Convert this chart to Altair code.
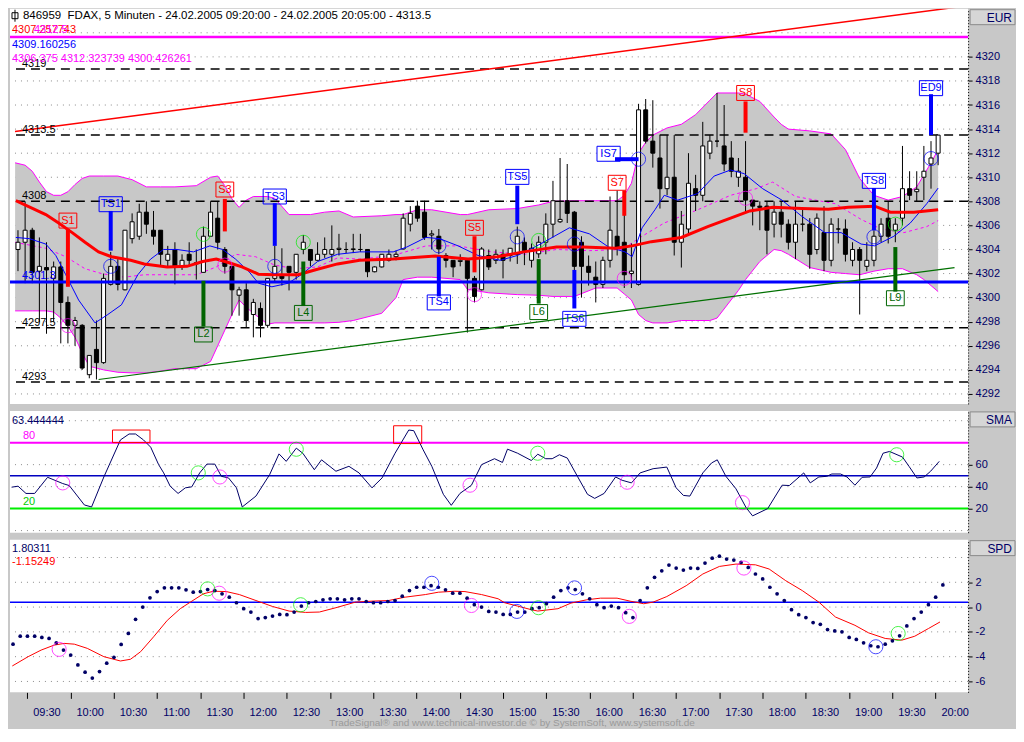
import altair as alt
import pandas as pd

FONT = "Liberation Sans, Arial, Helvetica, sans-serif"
NAVY = "#000066"
BG = "#c8c8c8"
BAND = "#c8c8c8"
RED, BLUE, DGREEN, LGREEN, MAG = "#ff0000", "#0000ff", "#006400", "#00ee00", "#ff00ff"

# ---------------- candles (5 min bars, 09:20 .. 20:05) ----------------
OPEN = [4304.0, 4304.6, 4305.6, 4302.2, 4302.5, 4301.6, 4302.55, 4299.6, 4297.7, 4297.7,
        4293.6, 4295.7, 4294.6, 4301.1, 4302.6, 4300.65, 4304.9, 4305.1, 4307.1, 4305.6,
        4305.6, 4303.1, 4304.0, 4302.6, 4303.6, 4302.9, 4302.1, 4305.1, 4306.6, 4304.0,
        4302.6, 4300.2, 4300.65, 4298.6, 4299.1, 4297.7, 4301.6, 4301.8, 4302.6, 4302.1,
        4304.0, 4304.0, 4303.1, 4303.6, 4303.6, 4304.0, 4304.0, 4304.0, 4304.0, 4304.0,
        4302.15, 4302.55, 4303.1, 4303.4, 4304.04, 4306.1, 4307.6, 4307.1, 4305.2, 4305.1,
        4303.5, 4303.1, 4303.0, 4303.1, 4301.6, 4300.65, 4303.5, 4303.1, 4303.6, 4303.5,
        4303.6, 4304.6, 4303.1, 4303.64, 4304.6, 4306.1, 4306.3, 4308.05, 4307.1, 4304.6,
        4302.6, 4301.7, 4301.1, 4303.1, 4305.1, 4304.6, 4302.0, 4301.1, 4315.6, 4313.0,
        4311.6, 4309.05, 4310.0, 4304.6, 4305.7, 4309.05, 4308.5, 4312.0, 4313.0, 4312.6,
        4311.6, 4310.0, 4310.0, 4308.1, 4307.6, 4307.6, 4306.1, 4307.1, 4306.1, 4304.6,
        4306.1, 4306.1, 4304.0, 4305.4, 4303.1, 4305.7, 4305.7, 4303.1, 4304.0, 4302.6,
        4303.1, 4305.1, 4306.6, 4305.6, 4306.6, 4309.05, 4308.8, 4310.0, 4311.1, 4312.0]
HIGH = [4305.6, 4308.0, 4305.8, 4305.0, 4304.6, 4303.0, 4303.0, 4300.1, 4298.4, 4297.8,
        4295.2, 4298.1, 4302.0, 4303.8, 4303.2, 4305.6, 4307.0, 4307.8, 4308.0, 4307.2,
        4305.6, 4304.3, 4304.6, 4303.6, 4304.6, 4304.0, 4305.9, 4308.0, 4308.0, 4304.2,
        4302.6, 4300.9, 4301.2, 4299.9, 4299.6, 4301.6, 4304.3, 4304.1, 4302.6, 4303.6,
        4305.2, 4304.0, 4304.6, 4305.0, 4306.0, 4305.3, 4304.6, 4305.3, 4305.3, 4304.0,
        4302.6, 4303.6, 4304.0, 4303.9, 4307.0, 4307.6, 4308.05, 4308.05, 4305.6, 4305.7,
        4303.7, 4303.1, 4303.6, 4303.2, 4301.8, 4304.2, 4304.0, 4304.0, 4304.0, 4304.1,
        4305.9, 4305.0, 4304.5, 4305.1, 4307.0, 4309.7, 4311.6, 4311.1, 4307.2, 4305.1,
        4303.5, 4303.0, 4303.4, 4308.4, 4308.9, 4307.8, 4304.5, 4316.1, 4316.5, 4316.4,
        4313.5, 4313.5, 4313.5, 4307.2, 4312.0, 4310.2, 4314.6, 4313.5, 4317.0, 4316.0,
        4313.0, 4311.6, 4313.0, 4308.1, 4308.0, 4308.0, 4308.0, 4308.0, 4306.5, 4308.0,
        4307.3, 4306.6, 4307.0, 4307.6, 4306.6, 4306.6, 4306.5, 4304.6, 4304.2, 4304.6,
        4305.6, 4306.6, 4308.0, 4306.6, 4312.6, 4310.5, 4310.5, 4312.6, 4313.0, 4313.5]
LOW = [4302.2, 4301.2, 4301.2, 4298.0, 4297.0, 4298.0, 4296.2, 4296.2, 4296.0, 4294.0,
       4293.3, 4293.2, 4294.5, 4301.0, 4300.6, 4300.6, 4304.5, 4304.8, 4305.3, 4304.4,
       4302.6, 4302.6, 4301.1, 4302.3, 4302.6, 4301.5, 4302.1, 4305.1, 4304.0, 4302.0,
       4298.5, 4298.5, 4297.5, 4296.7, 4296.7, 4297.5, 4301.3, 4301.0, 4300.6, 4301.5,
       4303.6, 4302.6, 4303.1, 4303.3, 4303.0, 4303.5, 4303.7, 4303.7, 4303.8, 4301.7,
       4302.1, 4302.5, 4303.0, 4303.1, 4304.0, 4305.5, 4306.3, 4304.8, 4304.0, 4303.6,
       4302.5, 4301.7, 4302.6, 4297.1, 4299.6, 4300.6, 4302.3, 4302.8, 4301.6, 4303.0,
       4302.8, 4302.7, 4302.5, 4303.3, 4303.6, 4305.0, 4306.2, 4306.2, 4299.7, 4300.0,
       4301.0, 4299.6, 4300.8, 4302.5, 4303.5, 4300.8, 4300.8, 4301.0, 4312.8, 4310.8,
       4307.4, 4308.5, 4303.5, 4302.5, 4305.2, 4307.2, 4308.0, 4311.5, 4312.5, 4310.5,
       4310.0, 4309.2, 4307.0, 4306.0, 4305.6, 4303.6, 4305.0, 4305.0, 4304.0, 4303.2,
       4305.5, 4302.4, 4303.6, 4302.2, 4302.6, 4304.5, 4303.0, 4302.6, 4298.6, 4302.2,
       4302.6, 4304.6, 4304.5, 4304.6, 4306.0, 4308.1, 4308.0, 4308.1, 4309.05, 4311.0]
CLOSE = [4304.6, 4305.6, 4302.1, 4302.6, 4302.3, 4302.55, 4299.6, 4297.7, 4298.1, 4294.15,
         4295.2, 4294.6, 4301.6, 4302.6, 4301.1, 4305.6, 4306.3, 4307.1, 4306.1, 4305.1,
         4303.6, 4303.6, 4302.6, 4303.1, 4303.1, 4302.8, 4305.1, 4307.1, 4304.6, 4302.6,
         4300.65, 4300.65, 4298.1, 4299.6, 4297.7, 4301.6, 4302.6, 4301.6, 4302.1, 4303.6,
         4304.6, 4303.1, 4303.6, 4304.0, 4304.0, 4304.1, 4304.0, 4304.05, 4304.0, 4302.15,
         4302.55, 4303.6, 4303.6, 4303.6, 4306.6, 4307.0, 4306.6, 4305.0, 4305.3, 4304.04,
         4303.1, 4302.55, 4303.1, 4301.6, 4300.1, 4304.04, 4302.55, 4303.6, 4303.1, 4304.1,
         4305.1, 4303.9, 4304.1, 4304.6, 4306.1, 4308.05, 4306.5, 4307.0, 4302.6, 4302.6,
         4302.1, 4301.1, 4303.1, 4305.6, 4304.2, 4301.9, 4302.2, 4315.6, 4313.0, 4312.0,
         4309.05, 4310.0, 4304.6, 4306.1, 4309.5, 4308.5, 4312.6, 4313.0, 4313.0, 4311.1,
         4310.5, 4310.5, 4308.1, 4307.6, 4307.5, 4305.6, 4307.1, 4306.1, 4304.6, 4306.1,
         4306.1, 4303.6, 4306.6, 4303.1, 4306.1, 4305.7, 4303.6, 4304.0, 4303.1, 4303.1,
         4305.1, 4306.1, 4305.1, 4306.1, 4309.05, 4308.5, 4309.0, 4310.5, 4311.6, 4313.5]

# ---------------- Bollinger band ----------------
BAND_X = [-0.4, 1, 2, 3, 4, 5, 6, 7, 8, 9, 10, 12, 14, 16, 18, 20, 22, 25, 27, 28, 29, 30, 31, 32, 33,
          35, 36, 38, 41, 43, 45, 47, 51, 53, 54, 56, 58, 62, 63, 66, 70, 73, 75, 78, 81, 84, 85,
          86, 87, 88, 89, 91, 93, 95, 97, 98, 101, 102, 104, 106, 107, 108, 111, 114, 116, 118,
          120, 122, 124, 126, 127, 128, 129]
BAND_UP = [4311.2, 4311.0, 4310.5, 4309.6, 4308.8, 4308.5, 4308.5, 4308.8, 4309.4, 4309.9, 4310.1,
           4310.1, 4310.1, 4309.8, 4309.2, 4309.2, 4309.2, 4309.3, 4310.0, 4310.1, 4309.3, 4308.2,
           4307.5, 4308.1, 4308.4, 4308.4, 4308.25, 4306.9, 4306.9, 4307.1, 4307.2, 4306.7, 4306.8,
           4306.9, 4306.9, 4307.3, 4307.3, 4306.9, 4306.9, 4307.3, 4307.4, 4307.7, 4308.0, 4308.05,
           4308.05, 4308.05, 4308.5, 4309.5, 4312.0, 4312.9, 4313.5, 4314.1, 4314.4, 4315.2, 4316.4,
           4317.0, 4317.0, 4316.9, 4316.3, 4315.0, 4314.4, 4314.0, 4313.85, 4313.6, 4312.3, 4309.9,
           4308.5, 4308.1, 4308.4, 4309.2, 4310.2, 4311.2, 4312.3]
BAND_LO = [4298.9, 4298.9, 4298.9, 4298.9, 4298.9, 4298.8, 4298.3, 4297.6, 4296.7, 4295.4, 4294.3,
           4294.0, 4293.8, 4293.75, 4293.75, 4293.9, 4294.1, 4294.1, 4294.7, 4296.0, 4297.3, 4298.6,
           4299.8, 4299.2, 4298.7, 4297.8, 4297.9, 4297.9, 4297.9, 4297.9, 4297.95, 4298.1, 4298.7,
           4300.0, 4301.5, 4301.7, 4301.7, 4301.5, 4300.7, 4300.4, 4300.25, 4300.2, 4300.1, 4300.1,
           4300.8, 4300.8, 4300.3, 4299.8, 4298.6, 4298.1, 4297.9, 4297.9, 4298.1, 4298.1, 4298.1,
           4298.3, 4300.6, 4301.5, 4303.0, 4304.0, 4303.9, 4303.6, 4302.5, 4302.1, 4302.0, 4301.9,
           4302.2, 4302.4, 4302.4, 4301.9, 4301.5, 4301.0, 4300.5]
MID_X = [-0.4, 3.9, 6.7, 9.4, 11.7, 14.9, 17.7, 22.3, 25, 27.8, 30.5, 33.3, 36, 38.8, 42, 44.8, 47.9,
         52.6, 57.2, 61.7, 66.4, 71, 75.5, 80.1, 84.7, 87.5, 90.6, 95.3, 99.9, 103.5, 105.8, 109,
         111.8, 114.6, 118.2, 121, 124.2, 127.4, 129]
MID_Y = [4304.6, 4304.1, 4303.4, 4302.4, 4302.0, 4301.7, 4301.9, 4301.9, 4301.9, 4302.55, 4303.6,
         4303.4, 4302.7, 4302.4, 4302.55, 4303.3, 4303.2, 4303.5, 4304.3, 4304.3, 4303.8, 4303.6,
         4304.0, 4303.9, 4304.0, 4305.1, 4306.2, 4307.3, 4308.5, 4309.05, 4309.6, 4308.4, 4308.1,
         4307.8, 4306.5, 4305.7, 4305.4, 4305.9, 4306.4]

# ---------------- moving averages ----------------
RED_X = [-0.3, 2.1, 3.9, 5.7, 7.6, 9.4, 11.3, 13.1, 15.8, 17.7, 20.9, 23.7, 25.9, 27.8, 29.6, 31.4,
         33.7, 36, 39.3, 41.6, 44.8, 47.9, 52.6, 58.5, 63.1, 67.2, 70.9, 75.5, 79.2, 83.8, 86.1,
         88.8, 93, 96.7, 99.9, 102.6, 105.8, 109.9, 113.6, 116.4, 120.1, 122.3, 125.6, 129]
RED_Y = [4308.05, 4307.4, 4306.9, 4306.2, 4305.4, 4304.6, 4303.8, 4303.4, 4303.1, 4302.8, 4302.55,
         4302.6, 4303.0, 4303.2, 4302.9, 4302.55, 4301.95, 4301.9, 4301.9, 4302.3, 4302.8, 4303.1,
         4303.2, 4303.45, 4303.2, 4303.4, 4303.8, 4304.2, 4304.2, 4304.1, 4304.3, 4304.65, 4305.0,
         4305.9, 4306.6, 4307.2, 4307.5, 4307.4, 4307.35, 4307.5, 4307.6, 4307.1, 4307.1, 4307.3]
BLU_X = [-0.3, 1.6, 3.9, 5.3, 6.7, 8.5, 10.8, 12.6, 14.5, 16.8, 18.6, 20.4, 22.3, 24.6, 26.9, 28.7,
         30.5, 32.4, 33.7, 35.6, 37.9, 39.7, 42, 44.8, 47.9, 52.6, 54.5, 57.2, 59.1, 61.7, 64.5,
         67.6, 70, 71.8, 74.6, 77.3, 80.1, 82.8, 85.1, 86.1, 87.5, 89.3, 90.6, 92.5, 95.3, 97.6,
         99.9, 101.8, 104.4, 107.1, 109.9, 113.1, 115.4, 118.2, 120.1, 122.8, 125.1, 127.4, 129]
BLU_Y = [4305.0, 4304.9, 4304.45, 4303.5, 4301.9, 4299.8, 4297.9, 4298.6, 4299.4, 4301.9, 4303.2,
         4304.0, 4304.0, 4303.8, 4304.3, 4304.0, 4303.2, 4302.15, 4301.2, 4300.9, 4301.2, 4301.9,
         4303.0, 4303.6, 4303.8, 4303.8, 4304.2, 4305.0, 4304.9, 4304.3, 4303.5, 4303.1, 4303.5,
         4304.0, 4304.9, 4305.8, 4305.3, 4304.2, 4303.8, 4303.4, 4305.8, 4307.3, 4308.5, 4308.1,
         4308.65, 4310.1, 4310.6, 4310.3, 4309.05, 4308.1, 4306.75, 4305.4, 4305.4, 4304.45,
         4304.3, 4305.1, 4306.2, 4307.8, 4309.1]

# ---------------- levels and trend lines ----------------
LEVELS = [4319, 4313.5, 4308, 4297.5, 4293]
LEVEL_LABELS = ["4319", "4313.5", "4308", "4297.5", "4293"]
BLUE_LEVEL = 4301.3
MAG_LEVEL = 4321.65
RES_X, RES_Y = [-0.42, 132.5], [4313.8, 4324.2]
SUP_X, SUP_Y = [11.3, 131.3], [4293.2, 4302.5]
PRICE_TICKS = [4292, 4294, 4296, 4298, 4300, 4302, 4304, 4306, 4308, 4310, 4312, 4314, 4316, 4318, 4320]
PRICE_GRID = PRICE_TICKS + [4322]

# ---------------- signals ----------------
SIG_NAMES = ["S1", "TS1", "S3", "TS3", "L2", "L4", "TS4", "S5", "TS5", "L6", "TS6", "S7", "S8", "TS8", "L9", "ED9"]
SIG_BAR = [7, 13, 29, 36, 26, 40, 59, 64, 70, 73, 78, 85, 102, 120, 123, 128]
SIG_TOP = [4305.7, 4307.2, 4308.2, 4307.85, 4301.4, 4303.0, 4303.4, 4305.1, 4309.3, 4303.2, 4302.3,
           4308.9, 4316.3, 4309.1, 4304.2, 4316.9]
SIG_BOT = [4300.9, 4303.9, 4305.5, 4304.3, 4297.6, 4299.3, 4300.1, 4302.1, 4306.1, 4299.5, 4299.1,
           4306.8, 4313.7, 4305.6, 4300.5, 4313.5]
SIG_BOX_X = [7, 13, 29, 36, 26, 40, 59, 64, 70, 73, 78, 84, 102, 120, 123, 128]
SIG_BOX_Y = [4306.4, 4307.76, 4308.98, 4308.4, 4296.94, 4298.73, 4299.6, 4305.8, 4310.03, 4298.8,
             4298.24, 4309.54, 4317.0, 4309.7, 4299.95, 4317.4]
SIG_KIND = [RED, BLUE, RED, BLUE, DGREEN, DGREEN, BLUE, RED, BLUE, DGREEN, BLUE, RED, RED, BLUE, DGREEN, BLUE]
IS7_NAME, IS7_BOX_X, IS7_BOX_Y = "IS7", 82.8, 4311.95
IS7_X1, IS7_X2, IS7_Y = 83.7, 87.0, 4311.5

CIRC_BAR = [13, 36, 59, 70, 78, 87, 120, 128, 26, 40, 73, 123, 7, 29, 64, 85, 102]
CIRC_PRICE = [4302.6, 4302.6, 4304.3, 4305.05, 4304.45, 4311.5, 4305.05, 4311.55, 4305.26, 4304.6,
              4304.75, 4306.1, 4297.67, 4302.7, 4300.25, 4301.6, 4308.25]
CIRC_KIND = [BLUE] * 8 + [LGREEN] * 4 + [MAG] * 5

# ---------------- SMA panel ----------------
STO_X = [-0.2, 0.7, 1.8, 3.0, 4.8, 6.9, 7.8, 9.9, 10.9, 12.6, 14.9, 16.1, 17.0, 18.1, 19.1, 20.2,
         20.9, 21.8, 22.9, 23.9, 24.8, 25.9, 26.9, 28.0, 28.9, 29.9, 31.0, 31.8, 33.7, 35.6, 36.9,
         37.9, 39.3, 40.2, 41.8, 42.8, 44.8, 46.6, 48.0, 49.8, 51.2, 53.0, 54.9, 55.6, 56.9, 58.1,
         59.7, 60.8, 62.0, 63.6, 65.0, 66.8, 67.9, 68.6, 70.0, 71.9, 72.8, 73.9, 74.8, 75.8, 76.9,
         78.3, 79.7, 80.7, 82.0, 83.6, 84.5, 85.8, 87.0, 88.8, 90.7, 92.0, 93.0, 93.9, 95.7, 96.9,
         97.7, 98.9, 100.3, 101.7, 102.6, 104.7, 106.7, 107.7, 109.7, 110.6, 111.8, 112.9, 113.6,
         114.8, 115.7, 116.8, 117.8, 118.9, 119.8, 120.7, 121.6, 123.4, 124.3, 125.4, 126.4, 127.3, 128.5]
STO_V = [39.5, 40.4, 33.8, 33.8, 48.5, 42.8, 41.0, 23.3, 21.5, 48.8, 82.5, 87.9, 87.9, 82.5, 75.9, 60.0,
         52.5, 40.4, 33.8, 38.9, 39.8, 52.5, 60.5, 60.5, 49.4, 47.9, 38.9, 21.5, 31.4, 50.9, 69.8,
         63.0, 75.0, 70.4, 55.4, 64.4, 54.0, 58.5, 52.5, 38.9, 47.9, 70.4, 91.5, 90.9, 73.5, 58.5,
         33.0, 23.0, 33.8, 41.3, 60.0, 65.4, 62.0, 74.1, 70.4, 63.8, 69.5, 65.4, 65.4, 69.0, 66.0,
         49.4, 33.0, 29.3, 33.8, 48.8, 45.8, 43.4, 52.5, 56.3, 57.8, 38.9, 32.0, 31.4, 52.5, 61.5,
         64.4, 49.4, 38.0, 20.9, 13.4, 20.0, 41.3, 41.0, 52.5, 43.4, 48.8, 49.4, 51.5,
         51.5, 48.8, 41.3, 48.5, 48.8, 56.9, 70.4, 72.0, 66.9, 58.5, 47.9, 48.8, 54.0, 63.0]
STO_BOX = [(13.8, 19.0, 80.1, 91.5), (52.8, 56.7, 79.2, 95.4)]
STO_C_X = [25.7, 39.3, 72.8, 122.6, 6.9, 28.7, 63.4, 85.2, 101.2]
STO_C_V = [52.5, 74.0, 70.4, 69.0, 43.4, 48.8, 41.3, 44.0, 25.4]
STO_C_KIND = [LGREEN] * 4 + [MAG] * 5
STO_TICKS = [20, 40, 60]
STO_GRID = [100, 60, 40, 0]

# ---------------- SPD panel ----------------
SPD = [-2.99, -2.35, -2.35, -2.35, -2.45, -2.53, -2.88, -3.47, -3.87, -4.67,
       -5.25, -5.73, -5.2, -4.53, -4.05, -3.01, -2.13, -0.99, 0.0, 0.75,
       1.25, 1.55, 1.55, 1.55, 1.39, 1.2, 1.25, 1.41, 1.33, 1.07,
       0.8, 0.35, -0.13, -0.4, -0.93, -0.85, -0.72, -0.59, -0.61, -0.4,
       0.08, 0.35, 0.45, 0.59, 0.67, 0.67, 0.59, 0.67, 0.67, 0.45,
       0.35, 0.35, 0.45, 0.53, 0.88, 1.33, 1.6, 1.6, 1.73, 1.6,
       1.39, 1.12, 1.12, 0.72, 0.19, 0.0, -0.35, -0.4, -0.59, -0.59,
       -0.4, -0.4, -0.13, -0.05, 0.27, 0.8, 1.33, 1.55, 1.41, 1.07, 0.67,
       0.19, -0.05, 0.08, -0.05, -0.45, -0.85, 0.53, 1.55, 2.4, 2.93,
       3.39, 3.15, 2.99, 3.15, 3.12, 3.55, 3.95, 4.11, 3.87, 3.79,
       3.6, 3.2, 2.67, 2.27, 1.6, 1.07, 0.53, -0.21, -0.61, -0.85,
       -1.25, -1.39, -1.81, -1.92, -2.0, -2.45, -2.61, -2.88, -3.12, -3.2,
       -2.99, -2.72, -2.32, -1.52, -0.93, -0.4, 0.19, 0.8, 1.79]
SIG_X = [-0.1, 2.1, 3.9, 5.7, 7.1, 8.5, 10.3, 12.6, 14.9, 16.3, 17.7, 19.5, 21.4, 23.2, 24.6, 26.4,
         27.8, 29.6, 31.4, 33.7, 36.0, 38.3, 40.6, 42.5, 44.8, 47.5, 49.8, 52.1, 54.4, 57.2, 59.0,
         61.3, 62.7, 65.0, 67.3, 68.2, 70.0, 71.9, 72.8, 75.6, 77.4, 79.6, 81.5, 83.8, 85.6, 87.5,
         88.8, 90.7, 93.4, 95.7, 98.0, 100.3, 103.0, 104.9, 107.2, 109.5, 111.8, 114.1, 116.8,
         118.7, 121.0, 123.3, 125.1, 127.0, 128.6]
SIG_V = [-4.75, -4.0, -3.47, -3.07, -2.93, -2.99, -3.33, -4.0, -4.35, -4.21, -3.6, -2.4, -1.07, -0.13,
         0.4, 1.07, 1.28, 1.25, 1.01, 0.53, 0.05, -0.32, -0.43, -0.4, -0.05, 0.4, 0.48, 0.53, 0.8,
         1.01, 1.2, 1.28, 1.25, 1.01, 0.67, 0.35, 0.08, -0.21, -0.32, -0.13, 0.32, 0.59, 0.72, 0.72,
         0.48, 0.27, 0.4, 0.85, 1.73, 2.67, 3.28, 3.47, 3.41, 3.07, 2.13, 1.33, 0.4, -0.8, -1.47,
         -2.08, -2.53, -2.67, -2.35, -1.73, -1.2]
SPD_C_X = [6.4, 28.6, 63.6, 85.5, 101.4, 27.0, 39.9, 72.9, 122.8, 58.1, 69.9, 77.9, 119.7]
SPD_C_V = [-3.41, 1.12, 0.13, -0.75, 3.15, 1.47, 0.19, -0.05, -2.13, 1.92, -0.35, 1.55, -3.2]
SPD_C_KIND = [MAG] * 5 + [LGREEN] * 4 + [BLUE] * 4
SPD_LEVEL = 0.4
SPD_TICKS = [2, 0, -2, -4, -6]
SPD_GRID = [4, 2, 0, -2, -4, -6]

TIME_TICKS = [2, 8, 14, 20, 26, 32, 38, 44, 50, 56, 62, 68, 74, 80, 86, 92, 98, 104, 110, 116, 122, 128]
TIME_LABELS = ["09:30", "10:00", "10:30", "11:00", "11:30", "12:00", "12:30", "13:00", "13:30", "14:00",
               "14:30", "15:00", "15:30", "16:00", "16:30", "17:00", "17:30", "18:00", "18:30", "19:00",
               "19:30", "20:00"]

TITLE = "846959 \u00a0FDAX, 5 Minuten - 24.02.2005 09:20:00 - 24.02.2005 20:05:00 - 4313.5"

# ---------------- layout ----------------
W = 960
H1, H2, H3 = 396, 122, 153
XDOM = [-0.42, 132.5]
PDOM = [4291.17, 4324.0]
SDOM = [-1.9, 108.9]
DDOM = [-6.88, 5.44]
PPU_X = W / (XDOM[1] - XDOM[0])
PPU_P = H1 / (PDOM[1] - PDOM[0])


def yaxis(values, label_expr=None):
    kw = dict(orient="right", values=values, title=None, grid=False, labelFont=FONT, labelFontSize=11,
              labelColor=NAVY, tickColor="black", tickSize=4, domainColor="black", domainDash=[1, 2],
              labelPadding=3, labelOverlap=False)
    if label_expr:
        kw["labelExpr"] = label_expr
    else:
        kw["format"] = "d"
    return alt.Axis(**kw)


label_expr = ("[" + ",".join(f"'{s}'" for s in TIME_LABELS) + "][indexof(["
              + ",".join(str(t) for t in TIME_TICKS) + "], datum.value)]")
XAXIS = alt.Axis(values=TIME_TICKS, labelExpr=label_expr, title=None, grid=False, domain=False,
                 tickColor="black", tickSize=6, labelOffset=19, labelColor=NAVY, labelFont=FONT,
                 labelFontSize=11, labelPadding=8, labelFlush=False, labelOverlap=False, orient="bottom")
PAX = yaxis(PRICE_TICKS)
SAX = yaxis(STO_TICKS)
DAX = yaxis(SPD_TICKS, "'' + datum.value")


def xe(field, axis=None):
    return alt.X(f"{field}:Q", scale=alt.Scale(domain=XDOM, nice=False, zero=False), axis=axis)


def xd(field):
    return xe(field, XAXIS)


def yp(field):
    return alt.Y(f"{field}:Q", scale=alt.Scale(domain=PDOM, nice=False, zero=False), axis=PAX)


def ys(field):
    return alt.Y(f"{field}:Q", scale=alt.Scale(domain=SDOM, nice=False, zero=False), axis=SAX)


def yd(field):
    return alt.Y(f"{field}:Q", scale=alt.Scale(domain=DDOM, nice=False, zero=False), axis=DAX)


def one():
    return pd.DataFrame({"k": [0]})


def ptext(s, x, y, color="black", size=11, align="left", baseline="middle"):
    return alt.Chart(pd.DataFrame({"t": [s]})).mark_text(
        align=align, baseline=baseline, font=FONT, fontSize=size, color=color
    ).encode(x=alt.value(x), y=alt.value(y), text="t:N")


def header(label):
    box = alt.Chart(one()).mark_rect(fill="#d6d6d6", stroke="#8a8a8a", strokeWidth=1).encode(
        x=alt.value(W + 2), x2=alt.value(W + 47), y=alt.value(1), y2=alt.value(16))
    txt = ptext(label, W + 44, 9, color=NAVY, size=12, align="right")
    return [box, txt]


# ===== price panel =====
cdf = pd.DataFrame({"i": list(range(len(OPEN))), "o": OPEN, "h": HIGH, "l": LOW, "c": CLOSE})
band_df = pd.DataFrame({"x": BAND_X, "up": BAND_UP, "lo": BAND_LO})
mid_df = pd.DataFrame({"x": MID_X, "y": MID_Y})
red_df = pd.DataFrame({"x": RED_X, "y": RED_Y})
blu_df = pd.DataFrame({"x": BLU_X, "y": BLU_Y})
lev_df = pd.DataFrame({"p": LEVELS, "t": LEVEL_LABELS})

grid1 = alt.Chart(pd.DataFrame({"p": PRICE_GRID})).mark_rule(
    color="#8c8c8c", strokeDash=[1, 5], strokeWidth=1).encode(y=yp("p"))
band = alt.Chart(band_df).mark_area(color=BAND, opacity=1).encode(x=xe("x"), y=yp("up"), y2="lo")
band_up = alt.Chart(band_df).mark_line(color=MAG, strokeWidth=1).encode(x=xe("x"), y=yp("up"))
band_lo = alt.Chart(band_df).mark_line(color=MAG, strokeWidth=1).encode(x=xe("x"), y=yp("lo"))
band_mid = alt.Chart(mid_df).mark_line(color=MAG, strokeWidth=1, strokeDash=[3, 3]).encode(
    x=xe("x"), y=yp("y"))
lev = alt.Chart(lev_df).mark_rule(color="black", strokeDash=[9, 6], strokeWidth=1.5).encode(y=yp("p"))
lev_txt = alt.Chart(lev_df).mark_text(
    align="left", baseline="alphabetic", dy=-2, font=FONT, fontSize=11, color="black").encode(
    x=alt.value(12), y=yp("p"), text="t:N")
mag_lev = alt.Chart(pd.DataFrame({"p": [MAG_LEVEL]})).mark_rule(color=MAG, strokeWidth=2.5).encode(y=yp("p"))
wick = alt.Chart(cdf).mark_rule(color="black", strokeWidth=1).encode(x=xe("i"), y=yp("l"), y2="h")
body = alt.Chart(cdf).mark_bar(size=4, stroke="black", strokeWidth=1).encode(
    x=xe("i"), y=yp("o"), y2="c",
    fill=alt.condition("datum.c >= datum.o", alt.value("white"), alt.value("black")))
blu_line = alt.Chart(blu_df).mark_line(color=BLUE, strokeWidth=1).encode(x=xe("x"), y=yp("y"))
red_line = alt.Chart(red_df).mark_line(color=RED, strokeWidth=3).encode(x=xe("x"), y=yp("y"))
blue_lev = alt.Chart(pd.DataFrame({"p": [BLUE_LEVEL]})).mark_rule(color=BLUE, strokeWidth=3).encode(y=yp("p"))
blue_lev_txt = alt.Chart(pd.DataFrame({"p": [BLUE_LEVEL], "t": ["4301.3"]})).mark_text(
    align="left", baseline="alphabetic", dy=-3, font=FONT, fontSize=11, color=BLUE).encode(
    x=alt.value(12), y=yp("p"), text="t:N")
res = alt.Chart(pd.DataFrame({"x": RES_X, "y": RES_Y})).mark_line(
    color=RED, strokeWidth=1.5, clip=True).encode(x=xe("x"), y=yp("y"))
sup = alt.Chart(pd.DataFrame({"x": SUP_X, "y": SUP_Y})).mark_line(
    color="#007000", strokeWidth=1.2, clip=True).encode(x=xe("x"), y=yp("y"))

sig_df = pd.DataFrame({"n": SIG_NAMES, "b": SIG_BAR, "t": SIG_TOP, "d": SIG_BOT, "c": SIG_KIND})
box_df = pd.DataFrame({"n": SIG_NAMES + [IS7_NAME], "bx": SIG_BOX_X + [IS7_BOX_X],
                       "by": SIG_BOX_Y + [IS7_BOX_Y], "c": SIG_KIND + [BLUE]})
half_w = (7 + 5.5 * box_df["n"].str.len()) / 2 / PPU_X
half_h = 7.5 / PPU_P
box_df["x1"] = box_df["bx"] - half_w
box_df["x2"] = box_df["bx"] + half_w
box_df["y1"] = box_df["by"] - half_h
box_df["y2"] = box_df["by"] + half_h

sig_bar = alt.Chart(sig_df).mark_rule(strokeWidth=4).encode(
    x=xe("b"), y=yp("t"), y2="d", color=alt.Color("c:N", scale=None))
is7_bar = alt.Chart(pd.DataFrame({"x1": [IS7_X1], "x2": [IS7_X2], "y": [IS7_Y]})).mark_rule(
    strokeWidth=4, color=BLUE).encode(x=xe("x1"), x2="x2", y=yp("y"))
sig_box = alt.Chart(box_df).mark_rect(fillOpacity=0, strokeWidth=1).encode(
    x=xe("x1"), x2="x2", y=yp("y1"), y2="y2", stroke=alt.Color("c:N", scale=None))
sig_txt = alt.Chart(box_df).mark_text(font=FONT, fontSize=11, baseline="middle", align="center").encode(
    x=xe("bx"), y=yp("by"), text="n:N", color=alt.Color("c:N", scale=None))
circ = alt.Chart(pd.DataFrame({"x": CIRC_BAR, "y": CIRC_PRICE, "c": CIRC_KIND})).mark_point(
    shape="circle", filled=False, size=200, strokeWidth=1).encode(
    x=xe("x"), y=yp("y"), color=alt.Color("c:N", scale=None))

icon_box = alt.Chart(one()).mark_rect(fill="white", stroke="black", strokeWidth=1).encode(
    x=alt.value(2), x2=alt.value(8), y=alt.value(4), y2=alt.value(10))
icon_line = alt.Chart(one()).mark_rule(color="black", strokeWidth=1).encode(
    x=alt.value(5), y=alt.value(1), y2=alt.value(13))

price = alt.layer(
    grid1, band, band_up, band_lo, band_mid, lev, mag_lev, wick, body, blu_line, red_line,
    blue_lev, res, sup, sig_bar, is7_bar, sig_box, sig_txt, circ, lev_txt, blue_lev_txt,
    icon_box, icon_line,
    ptext(TITLE, 13, 7, size=11.5),
    ptext("4307.257743", 2, 21, color=RED),
    ptext("4312.5", 24, 21, color=MAG),
    ptext("4309.160256", 2, 36, color=BLUE),
    ptext("4306.375 4312.323739 4300.426261", 2, 50, color=MAG),
    *header("EUR"),
).properties(width=W, height=H1)

# ===== SMA panel =====
grid2 = alt.Chart(pd.DataFrame({"v": STO_GRID})).mark_rule(
    color="#8c8c8c", strokeDash=[1, 5], strokeWidth=1).encode(y=ys("v"))
l80 = alt.Chart(pd.DataFrame({"v": [80]})).mark_rule(color=MAG, strokeWidth=2).encode(y=ys("v"))
l50 = alt.Chart(pd.DataFrame({"v": [50]})).mark_rule(color="#0000c0", strokeWidth=1.5).encode(y=ys("v"))
l20 = alt.Chart(pd.DataFrame({"v": [20]})).mark_rule(color="#00ee00", strokeWidth=2).encode(y=ys("v"))
sto = alt.Chart(pd.DataFrame({"x": STO_X, "v": STO_V})).mark_line(color=NAVY, strokeWidth=1).encode(
    x=xe("x"), y=ys("v"))
sbox = alt.Chart(pd.DataFrame({"x1": [b[0] for b in STO_BOX], "x2": [b[1] for b in STO_BOX],
                               "y1": [b[2] for b in STO_BOX], "y2": [b[3] for b in STO_BOX]})).mark_rect(
    fillOpacity=0, stroke=RED, strokeWidth=1).encode(x=xe("x1"), x2="x2", y=ys("y1"), y2="y2")
scirc = alt.Chart(pd.DataFrame({"x": STO_C_X, "v": STO_C_V, "c": STO_C_KIND})).mark_point(
    shape="circle", filled=False, size=200, strokeWidth=1).encode(
    x=xe("x"), y=ys("v"), color=alt.Color("c:N", scale=None))
s80 = alt.Chart(pd.DataFrame({"v": [86.4], "t": ["80"]})).mark_text(
    align="left", baseline="middle", font=FONT, fontSize=11, color=MAG).encode(
    x=alt.value(13), y=ys("v"), text="t:N")
s20 = alt.Chart(pd.DataFrame({"v": [26.0], "t": ["20"]})).mark_text(
    align="left", baseline="middle", font=FONT, fontSize=11, color="#00cc00").encode(
    x=alt.value(13), y=ys("v"), text="t:N")

sma = alt.layer(
    grid2, l80, l50, l20, sto, sbox, scirc, s80, s20,
    ptext("63.444444", 2, 10, color=NAVY),
    *header("SMA"),
).properties(width=W, height=H2)

# ===== SPD panel =====
grid3 = alt.Chart(pd.DataFrame({"v": SPD_GRID})).mark_rule(
    color="#8c8c8c", strokeDash=[1, 5], strokeWidth=1).encode(y=yd("v"))
zl = alt.Chart(pd.DataFrame({"v": [SPD_LEVEL]})).mark_rule(color=BLUE, strokeWidth=1.5).encode(y=yd("v"))
sig_line = alt.Chart(pd.DataFrame({"x": SIG_X, "v": SIG_V})).mark_line(color=RED, strokeWidth=1).encode(
    x=xd("x"), y=yd("v"))
dots = alt.Chart(pd.DataFrame({"i": list(range(len(SPD))), "v": SPD})).mark_circle(
    size=14, color=NAVY, opacity=1).encode(x=xd("i"), y=yd("v"))
dcirc = alt.Chart(pd.DataFrame({"x": SPD_C_X, "v": SPD_C_V, "c": SPD_C_KIND})).mark_point(
    shape="circle", filled=False, size=200, strokeWidth=1).encode(
    x=xd("x"), y=yd("v"), color=alt.Color("c:N", scale=None))

spd = alt.layer(
    grid3, zl, sig_line, dots, dcirc,
    ptext("1.80311", 2, 9, color=NAVY),
    ptext("-1.15249", 2, 22, color=RED),
    ptext("TradeSignal\u00ae and www.technical-investor.de \u00a9 by  SystemSoft, www.systemsoft.de",
          503, 184, color="#9a9a9a", size=10, align="center"),
    *header("SPD"),
).properties(width=W, height=H3)

chart = alt.vconcat(price, sma, spd, spacing=7).resolve_scale(
    x="independent", y="independent").properties(
    padding=0, background=BG).configure_view(strokeWidth=0, fill="white")

chart.save("out.html", embed_options={"renderer": "svg", "actions": False})
